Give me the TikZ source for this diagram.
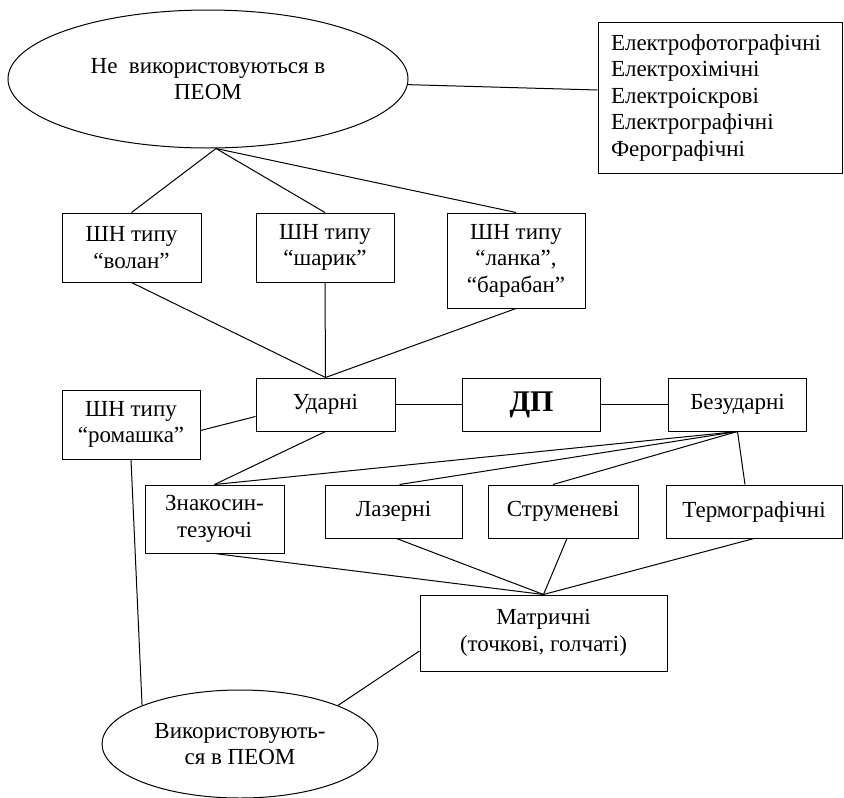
\documentclass[tikz,border=0pt]{standalone}
\usepackage{fontspec}
\setmainfont{Liberation Serif}
\newfontfamily\timesfont{Liberation Serif}
\usetikzlibrary{shapes.geometric, positioning}

\begin{document}
\begin{tikzpicture}[x=1pt, y=-1pt, node distance=206pt, line width=1pt,
    font=\timesfont\fontsize{23}{26.5}\selectfont]
  \tikzstyle{box}=[draw, rectangle, minimum width=138pt, minimum height=69pt, align=center]
  \tikzstyle{oval}=[draw, ellipse, align=center]

  \useasboundingbox (0,0) rectangle (844,798);

    % top part
    \node[oval, minimum width=400pt, minimum height=138pt] (ne) at (208,79) {Не~ використовуються в\\ПЕОМ};
    \node[box, align=left, minimum width=244pt, minimum height=151pt, text width=218pt] (kinds) at (720,97.5)
      {Електрофотографічні\\Електрохімічні\\Електроіскрові\\Електрографічні\\Ферографічні};
    \coordinate[xshift=8pt] (hub) at (ne.south);

    \node[box, minimum width=139pt] (volan)  at (131.5,247.5) {ШН типу\\“волан”};
    \node[box]                      (sharyk) at (325,247.5)   {ШН типу\\“шарик”};
    \node[box, minimum height=95pt] (lanka)  at (516,260.5)   {ШН типу\\“ланка”,\\“барабан”};

    % middle row
    \node[box, minimum width=139pt, minimum height=53pt] (udarni) at (325.5,404.5) {Ударні};
    \node[box, minimum height=53pt, font=\timesfont\fontsize{30}{32}\selectfont\bfseries] (dp) [right of=udarni] {ДП};
    \node[box, minimum height=53pt] (bezud) [right of=dp] {Безударні};
    \node[box] (romashka) at (131,424.5) {ШН типу\\“ромашка”};

    % bottom row
    \node[box, minimum width=139pt, minimum height=68pt] (znak) at (214.5,519) {Знакосин-\\тезуючі};
    \node[box, minimum width=137pt, minimum height=53pt] (lazer) at (393.5,511.5) {Лазерні};
    \node[box, minimum width=150pt, minimum height=53pt] (strum) at (563,511.5) {Струменеві};
    \node[box, minimum width=176pt, minimum height=53pt] (termo) at (754,511.5) {Термографічні};

    \node[box, minimum width=247pt, minimum height=76pt] (matr) at (543.5,633) {Матричні\\(точкові, голчаті)};
    \node[oval, minimum width=276pt, minimum height=108pt] (vyk) at (240,744) {Використовують-\\ся в ПЕОМ};

    \path
     (ne) edge ([yshift=7.5pt]kinds.west)
     (hub)
          edge (volan.north)
          edge (sharyk.north)
          edge (lanka.north)
     (udarni.north)
          edge (volan.south)
          edge (sharyk.south)
          edge (lanka.south)
     (udarni) edge (dp)
     (dp) edge (bezud)
     ([yshift=-6pt]romashka.east) edge ([yshift=-12pt]udarni.west)
     (udarni.south) edge (znak.north)
     (bezud.south)
          edge (znak.north)
          edge ([xshift=6pt]lazer.north)
          edge ([xshift=-10pt]strum.north)
          edge ([xshift=-9pt]termo.north)
     (matr.north)
          edge (znak.south)
          edge ([xshift=3pt]lazer.south)
          edge ([xshift=4pt]strum.south)
          edge (termo.south)
     (romashka.south) edge (vyk.north west)
     ([yshift=-18pt]matr.west) edge (vyk.north east);
\end{tikzpicture}
\end{document}
